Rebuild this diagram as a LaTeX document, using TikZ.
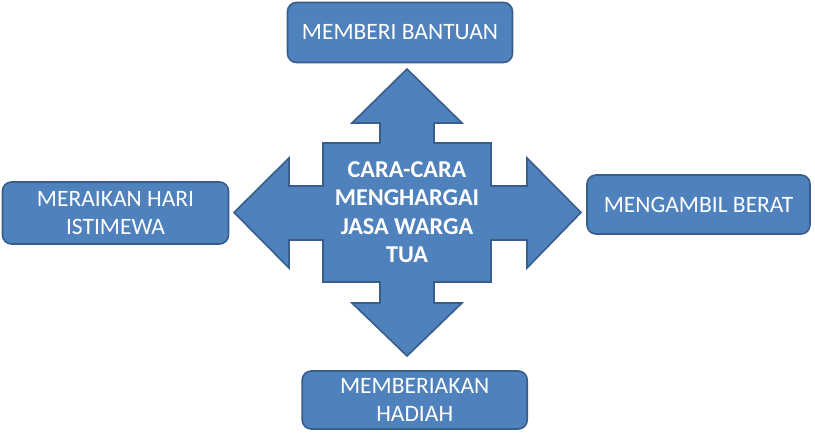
\documentclass[tikz,border=0pt]{standalone}
\usepackage{fontspec}
\setmainfont{Carlito}
\usepackage{tikz}
\usetikzlibrary{positioning}
\usepackage{xcolor}
\definecolor{boxblue}{HTML}{4F81BD}
\definecolor{edgeblue}{HTML}{385D8A}

\tikzset{
    waybox/.style={draw=edgeblue, line width=1.6pt, fill=boxblue, rounded corners=9pt,
        text=white, align=center, font=\fontsize{23.5}{28}\selectfont, inner sep=2pt},
}

\begin{document}
\begin{tikzpicture}[x=1pt, y=-1pt]
    \useasboundingbox (0,0) rectangle (815,433);

    % Four-way arrow
    \draw[draw=edgeblue, line width=1.6pt, fill=boxblue, line join=miter]
        (407,69) -- (462,123) -- (434,123) -- (434,143) -- (491,143) -- (491,186)
        -- (527,186) -- (527,158) -- (581,212.5) -- (527,268) -- (527,240)
        -- (491,240) -- (491,282) -- (434,282) -- (434,303) -- (462,303)
        -- (407,356) -- (352,303) -- (380,303) -- (380,282) -- (323,282)
        -- (323,240) -- (289,240) -- (289,268) -- (234,212.5) -- (289,158)
        -- (289,186) -- (323,186) -- (323,143) -- (380,143) -- (380,123)
        -- (352,123) -- cycle;
    \node[text=white, align=center, font=\fontsize{24.2}{28.5}\selectfont\bfseries]
        (core) at (407,212) {CARA-CARA\\MENGHARGAI\\JASA WARGA\\TUA};

    % Outer boxes
    \node[waybox, minimum width=225pt, minimum height=60pt]
        (help) at (400,32.5) {MEMBERI BANTUAN};
    \node[waybox, minimum width=226pt, minimum height=62pt]
        (celebrate) at (115.5,213) {MERAIKAN HARI\\ISTIMEWA};
    \node[waybox, minimum width=223pt, minimum height=59pt]
        (care) at (698.5,204.5) {MENGAMBIL BERAT};
    \node[waybox, minimum width=225pt, minimum height=58pt]
        (gift) at (414.7,400) {MEMBERIAKAN\\HADIAH};
\end{tikzpicture}
\end{document}
